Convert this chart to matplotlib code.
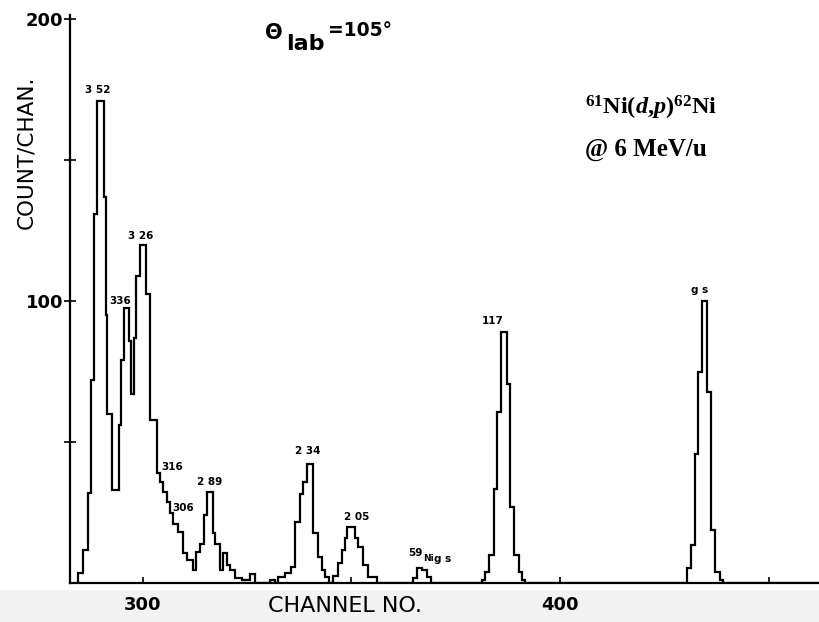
import matplotlib
matplotlib.use("Agg")
import matplotlib.pyplot as plt
from matplotlib.patches import Rectangle

# ---- data (channel edges of each step, counts per step)
step_edges = [284.4, 285.8, 286.9, 287.7, 288.3, 289.0, 290.6, 291.2, 291.5, 292.6,
              294.2, 294.8, 295.5, 296.7, 297.1, 297.9, 298.4, 299.4, 300.7, 301.8,
              303.5, 304.1, 304.9, 305.8, 306.5, 307.3, 308.5, 309.7, 310.5, 312.0,
              312.8, 313.7, 314.6, 315.5, 316.8, 317.3, 318.5, 319.2, 320.1, 320.9,
              322.1, 323.7, 325.7, 326.9, 330.5, 331.7, 332.5, 334.1, 335.6, 336.6,
              337.6, 338.5, 339.3, 340.9, 341.9, 342.9, 343.7, 344.7, 345.7, 346.9,
              347.7, 348.5, 348.9, 350.9, 351.7, 352.9, 354.1, 356.1, 364.9, 365.7,
              366.9, 368.1, 369.0, 381.3, 382.1, 383.1, 384.1, 385.0, 385.9, 387.3,
              388.1, 389.0, 390.1, 390.9, 391.7, 430.5, 431.3, 432.4, 433.2, 434.1,
              435.3, 436.2, 437.2, 438.3, 439.2, 462.0]
step_counts = [3.5, 11.7, 32, 72, 131, 171, 137, 95, 60, 33,
               56, 79, 97.6, 86, 67, 87, 108.8, 120, 102.4, 58,
               39, 36, 32.3, 28.7, 24.7, 21, 18, 10.5, 8.1, 4.6,
               11, 14, 24, 32.3, 17.6, 14, 4.6, 10.5, 6.3, 4.6,
               1.9, 1.1, 3.2, 0, 1, 0, 2, 3.5, 5.8, 21.7,
               31.7, 35.8, 42.3, 17.6, 9.3, 4.6, 2, 0, 2.5, 7,
               11.7, 16, 19.7, 15.8, 12.6, 6.4, 2.2, 0, 1.7, 5.2,
               4.5, 2, 0, 1, 4, 9.9, 33.5, 60.5, 89, 70.6,
               27, 9.9, 4, 1, 0, 5.2, 13.4, 45.8, 74.7, 100.2,
               67.6, 18.7, 4, 1, 0]

peak_labels = ["3 52", "3 26", "336", "316", "306", "2 89", "2 34", "2 05", "117", "g s"]
peak_label_ch = [289.3, 299.6, 294.6, 307.0, 309.7, 316.0, 339.6, 351.2, 383.8, 433.4]
peak_label_cnt = [175, 123, 100, 41, 26.5, 36, 47, 23.3, 93, 104]

x_major = [300, 400]
x_minor = [350, 450]
y_major = [100, 200]
y_minor = [50, 150]

# ---- figure
W, H = 819, 622
fig = plt.figure(figsize=(W / 100, H / 100), dpi=100)
fig.patch.set_facecolor("white")
fig.patches.append(Rectangle((0, 0), 1, (H - 590) / H, transform=fig.transFigure,
                             facecolor="#f2f2f2", edgecolor="none", zorder=-5))

ax = fig.add_axes([70 / W, (H - 583) / H, (W - 70) / W, (583 - 15) / H])
ax.set_facecolor("white")
ax.stairs(step_counts, step_edges, baseline=0, color="black", lw=1.6)

ax.set_xlim(282.57, 462.1)
ax.set_ylim(0, 201.5)
for s in ["top", "right"]:
    ax.spines[s].set_visible(False)
for s in ["left", "bottom"]:
    ax.spines[s].set_linewidth(1.6)

ax.set_xticks(x_major)
ax.set_xticks(x_minor, minor=True)
ax.set_yticks(y_major)
ax.set_yticks(y_minor, minor=True)
ax.tick_params(axis="x", which="both", direction="in", length=4, width=1.2, pad=9,
               labelsize=13)
ax.tick_params(axis="y", which="both", direction="inout", length=8, width=1.2, pad=1,
               labelsize=13)
for lab in ax.get_xticklabels() + ax.get_yticklabels():
    lab.set_fontweight("bold")

for t, c, n in zip(peak_labels, peak_label_ch, peak_label_cnt):
    ax.text(c, n, t, ha="center", va="center", fontsize=7.5, fontweight="bold")

# 59Ni g.s. label
ax.text(367.1, 10.5, "59", ha="right", va="center", fontsize=7.5, fontweight="bold")
ax.text(367.1, 8.8, "Ni", ha="left", va="center", fontsize=6.5, fontweight="bold")
ax.text(369.8, 8.6, "g s", ha="left", va="center", fontsize=7.5, fontweight="bold")

# axis titles
fig.text(345 / W, 1 - 606 / H, "CHANNEL NO.", ha="center", va="center", fontsize=16)
fig.text(26 / W, 1 - 152 / H, "COUNT/CHAN.", ha="center", va="center", fontsize=15.5,
         rotation=90)

# theta_lab label
fig.text(265 / W, 1 - 39 / H, "Θ", ha="left", va="baseline", fontsize=15,
         fontweight="bold")
fig.text(286 / W, 1 - 50 / H, "lab", ha="left", va="baseline", fontsize=16,
         fontweight="bold")
fig.text(328 / W, 1 - 36 / H, "=105°", ha="left", va="baseline", fontsize=13.5,
         fontweight="bold")

# reaction label
plt.rcParams["mathtext.fontset"] = "custom"
plt.rcParams["mathtext.rm"] = "Liberation Serif:bold"
plt.rcParams["mathtext.bf"] = "Liberation Serif:bold"
plt.rcParams["mathtext.it"] = "Liberation Serif:italic:bold"
fig.text(585 / W, 1 - 115 / H, r"$^{61}$Ni($\mathit{d}$,$\mathit{p}$)$^{62}$Ni",
         ha="left", va="baseline", fontsize=17.5, family="Liberation Serif",
         fontweight="bold")
fig.text(585 / W, 1 - 156 / H, "@ 6 MeV/u", ha="left", va="baseline", fontsize=18,
         family="Liberation Serif", fontweight="bold")

fig.savefig("out.png", dpi=100)
